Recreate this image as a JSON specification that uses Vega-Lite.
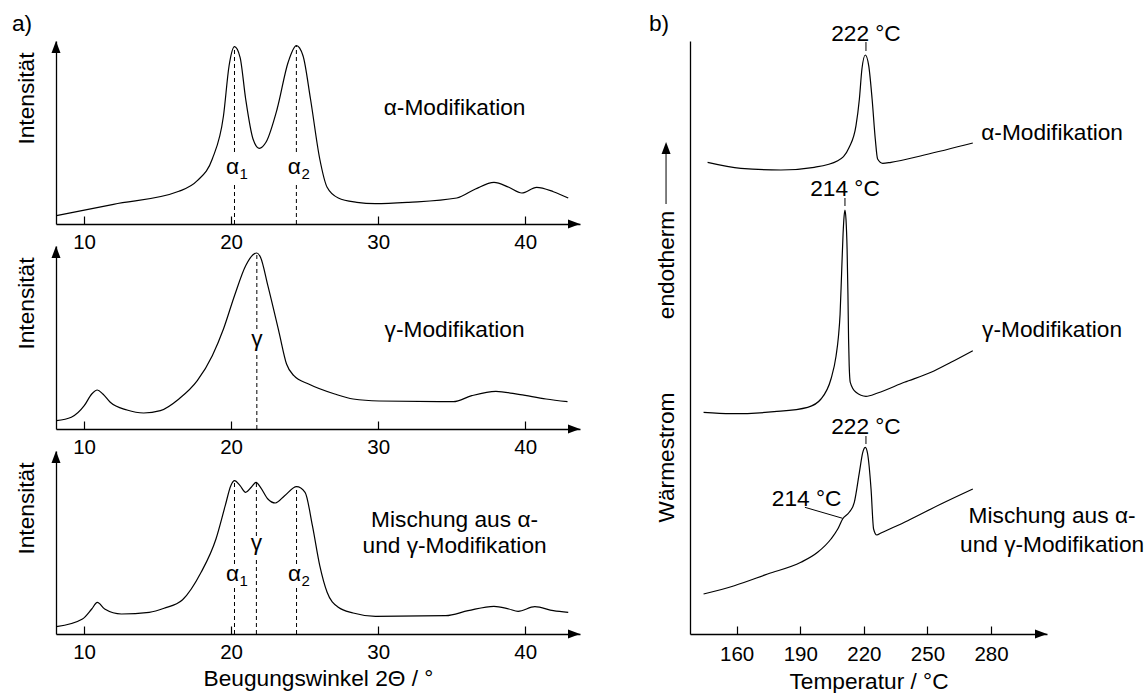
{
  "$schema": "https://vega.github.io/schema/vega-lite/v6.json",
  "background": "white",
  "padding": {"left": 11, "top": 12, "right": 5, "bottom": 5},
  "spacing": 68,
  "config": {
    "view": {"stroke": null},
    "font": "Liberation Sans",
    "axis": {"domainColor": "black", "domainWidth": 1.3, "tickColor": "black", "tickWidth": 1.2, "labelColor": "black", "labelFont": "Liberation Sans", "labelFontSize": 20.5, "titleFont": "Liberation Sans", "titleFontSize": 22.7, "titleFontWeight": "normal", "titleColor": "black", "grid": false, "labelOverlap": false, "labelFlush": false},
    "text": {"font": "Liberation Sans", "fontSize": 22.7, "color": "black"}
  },
  "datasets": {
    "xrd": [
      {"p": "a", "t": 8.12, "i": 8.3}, {"p": "a", "t": 12.0, "i": 19.7}, {"p": "a", "t": 16.45, "i": 32.7}, {"p": "a", "t": 17.7, "i": 43.3}, {"p": "a", "t": 18.72, "i": 65}, {"p": "a", "t": 19.48, "i": 108}, {"p": "a", "t": 19.86, "i": 158}, {"p": "a", "t": 20.23, "i": 177.3}, {"p": "a", "t": 20.61, "i": 166.7}, {"p": "a", "t": 20.99, "i": 125}, {"p": "a", "t": 21.49, "i": 85}, {"p": "a", "t": 21.92, "i": 75.7}, {"p": "a", "t": 22.37, "i": 81.7}, {"p": "a", "t": 23.13, "i": 115}, {"p": "a", "t": 23.88, "i": 161.7}, {"p": "a", "t": 24.44, "i": 178.3}, {"p": "a", "t": 24.89, "i": 168.3}, {"p": "a", "t": 25.4, "i": 125}, {"p": "a", "t": 26.03, "i": 65}, {"p": "a", "t": 26.53, "i": 36.7}, {"p": "a", "t": 27.29, "i": 26}, {"p": "a", "t": 28.55, "i": 21.7}, {"p": "a", "t": 29.81, "i": 20.3}, {"p": "a", "t": 32.08, "i": 21.7}, {"p": "a", "t": 35.35, "i": 26}, {"p": "a", "t": 36.62, "i": 35}, {"p": "a", "t": 37.88, "i": 41.7}, {"p": "a", "t": 38.89, "i": 36.7}, {"p": "a", "t": 39.77, "i": 31}, {"p": "a", "t": 40.78, "i": 36.7}, {"p": "a", "t": 41.92, "i": 32.3}, {"p": "a", "t": 42.93, "i": 26},
      {"p": "g", "t": 8.12, "i": 8.3}, {"p": "g", "t": 9.13, "i": 11.7}, {"p": "g", "t": 10.01, "i": 23.3}, {"p": "g", "t": 10.52, "i": 35}, {"p": "g", "t": 10.9, "i": 39}, {"p": "g", "t": 11.28, "i": 35}, {"p": "g", "t": 11.78, "i": 26.7}, {"p": "g", "t": 12.92, "i": 19}, {"p": "g", "t": 14.05, "i": 16}, {"p": "g", "t": 15.19, "i": 18.3}, {"p": "g", "t": 16.45, "i": 30}, {"p": "g", "t": 17.7, "i": 48.3}, {"p": "g", "t": 18.72, "i": 73.3}, {"p": "g", "t": 19.48, "i": 100}, {"p": "g", "t": 20.23, "i": 133.3}, {"p": "g", "t": 20.99, "i": 163.3}, {"p": "g", "t": 21.49, "i": 174.3}, {"p": "g", "t": 21.75, "i": 176}, {"p": "g", "t": 22.0, "i": 171.7}, {"p": "g", "t": 22.5, "i": 143.3}, {"p": "g", "t": 23.26, "i": 96.7}, {"p": "g", "t": 23.77, "i": 65}, {"p": "g", "t": 24.27, "i": 53.3}, {"p": "g", "t": 25.27, "i": 45}, {"p": "g", "t": 27.05, "i": 35}, {"p": "g", "t": 28.3, "i": 30}, {"p": "g", "t": 30.07, "i": 28}, {"p": "g", "t": 35.11, "i": 27.3}, {"p": "g", "t": 36.37, "i": 33.3}, {"p": "g", "t": 38.01, "i": 37.7}, {"p": "g", "t": 39.66, "i": 34.3}, {"p": "g", "t": 41.42, "i": 30}, {"p": "g", "t": 42.88, "i": 27.3},
      {"p": "m", "t": 8.12, "i": 7.3}, {"p": "m", "t": 9.89, "i": 15}, {"p": "m", "t": 10.52, "i": 25}, {"p": "m", "t": 10.9, "i": 31.7}, {"p": "m", "t": 11.4, "i": 25}, {"p": "m", "t": 12.54, "i": 20}, {"p": "m", "t": 14.43, "i": 21.7}, {"p": "m", "t": 15.44, "i": 25.7}, {"p": "m", "t": 16.7, "i": 34.3}, {"p": "m", "t": 17.96, "i": 61.7}, {"p": "m", "t": 18.97, "i": 95}, {"p": "m", "t": 19.6, "i": 128.3}, {"p": "m", "t": 19.98, "i": 148.3}, {"p": "m", "t": 20.23, "i": 153.3}, {"p": "m", "t": 20.61, "i": 148.3}, {"p": "m", "t": 20.99, "i": 141.7}, {"p": "m", "t": 21.37, "i": 146.7}, {"p": "m", "t": 21.7, "i": 151.7}, {"p": "m", "t": 22.0, "i": 146.7}, {"p": "m", "t": 22.5, "i": 135}, {"p": "m", "t": 23.01, "i": 131}, {"p": "m", "t": 23.64, "i": 138.3}, {"p": "m", "t": 24.45, "i": 147.3}, {"p": "m", "t": 25.03, "i": 141.7}, {"p": "m", "t": 25.53, "i": 108.3}, {"p": "m", "t": 26.03, "i": 68.3}, {"p": "m", "t": 26.53, "i": 41.7}, {"p": "m", "t": 27.29, "i": 26.7}, {"p": "m", "t": 28.3, "i": 21}, {"p": "m", "t": 29.82, "i": 17.7}, {"p": "m", "t": 34.6, "i": 18.3}, {"p": "m", "t": 36.12, "i": 23.3}, {"p": "m", "t": 37.88, "i": 27.7}, {"p": "m", "t": 38.89, "i": 25}, {"p": "m", "t": 39.52, "i": 22.7}, {"p": "m", "t": 40.66, "i": 27.3}, {"p": "m", "t": 41.92, "i": 23.3}, {"p": "m", "t": 42.93, "i": 21.7}
    ],
    "xrdDash": [
      {"p": "a", "t": 20.23, "i": 72, "i2": 177.3}, {"p": "a", "t": 20.23, "i": 0, "i2": 40}, {"p": "a", "t": 24.44, "i": 72, "i2": 178.3}, {"p": "a", "t": 24.44, "i": 0, "i2": 40},
      {"p": "g", "t": 21.75, "i": 100, "i2": 176}, {"p": "g", "t": 21.75, "i": 0, "i2": 75},
      {"p": "m", "t": 20.23, "i": 70, "i2": 153.3}, {"p": "m", "t": 20.23, "i": 0, "i2": 47}, {"p": "m", "t": 21.72, "i": 98, "i2": 151.7}, {"p": "m", "t": 21.72, "i": 0, "i2": 77}, {"p": "m", "t": 24.45, "i": 70, "i2": 147.3}, {"p": "m", "t": 24.45, "i": 0, "i2": 47}
    ],
    "xrdAlpha": [
      {"p": "a", "t": 20.23, "i": 50, "g": "α", "s": "1"}, {"p": "a", "t": 24.44, "i": 50, "g": "α", "s": "2"},
      {"p": "m", "t": 20.23, "i": 53, "g": "α", "s": "1"}, {"p": "m", "t": 24.45, "i": 53, "g": "α", "s": "2"}
    ],
    "xrdGamma": [
      {"p": "g", "t": 21.75, "i": 83.5, "g": "γ"}, {"p": "m", "t": 21.72, "i": 84, "g": "γ"}
    ],
    "xrdText": [
      {"p": "a", "t": 35.2, "i": 109, "text": "α-Modifikation"},
      {"p": "g", "t": 35.2, "i": 92.5, "text": "γ-Modifikation"},
      {"p": "m", "t": 35.2, "i": 107.5, "text": "Mischung aus α-"},
      {"p": "m", "t": 35.2, "i": 81, "text": "und γ-Modifikation"}
    ],
    "dsc": [
      {"s": "a", "T": 146.3, "W": 471.7}, {"s": "a", "T": 162.0, "W": 465.7}, {"s": "a", "T": 180.9, "W": 464}, {"s": "a", "T": 196.6, "W": 466.7}, {"s": "a", "T": 207.7, "W": 473.3}, {"s": "a", "T": 213.1, "W": 486.7}, {"s": "a", "T": 216.3, "W": 508.3}, {"s": "a", "T": 217.9, "W": 535}, {"s": "a", "T": 219.1, "W": 565}, {"s": "a", "T": 220.7, "W": 579}, {"s": "a", "T": 222.3, "W": 568.3}, {"s": "a", "T": 223.9, "W": 535}, {"s": "a", "T": 225.4, "W": 495}, {"s": "a", "T": 226.5, "W": 475}, {"s": "a", "T": 228.9, "W": 470.7}, {"s": "a", "T": 232.8, "W": 471.7}, {"s": "a", "T": 248.5, "W": 479}, {"s": "a", "T": 271.4, "W": 491},
      {"s": "g", "T": 144.4, "W": 221.7}, {"s": "g", "T": 157.3, "W": 220.3}, {"s": "g", "T": 177.7, "W": 222.3}, {"s": "g", "T": 193.5, "W": 226.7}, {"s": "g", "T": 199.8, "W": 235}, {"s": "g", "T": 204.5, "W": 255}, {"s": "g", "T": 206.9, "W": 278}, {"s": "g", "T": 208.0, "W": 297}, {"s": "g", "T": 208.8, "W": 320}, {"s": "g", "T": 209.5, "W": 360}, {"s": "g", "T": 210.2, "W": 400}, {"s": "g", "T": 210.7, "W": 418}, {"s": "g", "T": 211.1, "W": 424}, {"s": "g", "T": 211.6, "W": 414}, {"s": "g", "T": 212.1, "W": 385}, {"s": "g", "T": 212.5, "W": 340}, {"s": "g", "T": 212.8, "W": 295}, {"s": "g", "T": 213.1, "W": 268}, {"s": "g", "T": 213.6, "W": 251.7}, {"s": "g", "T": 216.3, "W": 241.7}, {"s": "g", "T": 221.0, "W": 237.7}, {"s": "g", "T": 226.5, "W": 241}, {"s": "g", "T": 239.1, "W": 251.7}, {"s": "g", "T": 251.7, "W": 261.7}, {"s": "g", "T": 261.1, "W": 271.7}, {"s": "g", "T": 271.4, "W": 283.3},
      {"s": "m", "T": 144.4, "W": 40}, {"s": "m", "T": 158.9, "W": 48.3}, {"s": "m", "T": 174.6, "W": 60}, {"s": "m", "T": 190.3, "W": 71.7}, {"s": "m", "T": 198.2, "W": 81.7}, {"s": "m", "T": 204.5, "W": 95}, {"s": "m", "T": 207.7, "W": 105}, {"s": "m", "T": 210.0, "W": 115}, {"s": "m", "T": 213.1, "W": 121.7}, {"s": "m", "T": 215.5, "W": 131.7}, {"s": "m", "T": 217.9, "W": 161.7}, {"s": "m", "T": 219.5, "W": 181.7}, {"s": "m", "T": 220.7, "W": 186.7}, {"s": "m", "T": 221.8, "W": 180}, {"s": "m", "T": 223.4, "W": 145}, {"s": "m", "T": 224.6, "W": 105}, {"s": "m", "T": 226.1, "W": 99}, {"s": "m", "T": 228.1, "W": 101}, {"s": "m", "T": 240.7, "W": 113.3}, {"s": "m", "T": 256.4, "W": 130}, {"s": "m", "T": 271.4, "W": 145}
    ],
    "dscTick": [
      {"T": 221.0, "W": 583, "W2": 592}, {"T": 211.1, "W": 428, "W2": 436}, {"T": 221.0, "W": 190, "W2": 198}
    ],
    "dscLead": [
      {"T": 192.2, "W": 126.7, "T2": 210.0, "W2": 115.7}
    ],
    "dscPeak": [
      {"T": 221.0, "W": 593, "text": "222 °C"}, {"T": 211.1, "W": 438.5, "text": "214 °C"}, {"T": 221.0, "W": 200, "text": "222 °C"}, {"T": 193.0, "W": 128, "text": "214 °C"}
    ],
    "dscText": [
      {"T": 308.8, "W": 494, "text": "α-Modifikation"},
      {"T": 308.8, "W": 297, "text": "γ-Modifikation"},
      {"T": 308.8, "W": 111, "text": "Mischung aus α-"},
      {"T": 308.8, "W": 82, "text": "und γ-Modifikation"}
    ]
  },
  "hconcat": [
    {
      "vconcat": [
        {
          "width": 524, "height": 183,
          "layer": [
            {"data": {"name": "xrd"}, "transform": [{"filter": "datum.p === 'a'"}],
             "mark": {"type": "line", "interpolate": "monotone", "color": "black", "strokeWidth": 1.2},
             "encoding": {
               "x": {"field": "t", "type": "quantitative", "scale": {"domain": [8.09, 43.73], "nice": false, "zero": false}, "axis": {"values": [10, 20, 30, 40], "title": null, "tickSize": -8, "labelPadding": 16.4}},
               "y": {"field": "i", "type": "quantitative", "scale": {"domain": [0, 183], "nice": false}, "axis": {"title": "Intensität", "ticks": false, "labels": false, "titlePadding": 17.5, "titleY": 11, "titleAlign": "right", "titleAngle": 270}}
             }},
            {"data": {"name": "xrdDash"}, "transform": [{"filter": "datum.p === 'a'"}],
             "mark": {"type": "rule", "strokeDash": [4, 3], "color": "black", "strokeWidth": 1},
             "encoding": {"x": {"field": "t", "type": "quantitative"}, "y": {"field": "i", "type": "quantitative"}, "y2": {"field": "i2"}}},
            {"data": {"name": "xrdAlpha"}, "transform": [{"filter": "datum.p === 'a'"}],
             "mark": {"type": "text", "align": "center", "baseline": "alphabetic", "dx": -2, "color": "black"},
             "encoding": {"x": {"field": "t", "type": "quantitative"}, "y": {"field": "i", "type": "quantitative"}, "text": {"field": "g"}}},
            {"data": {"name": "xrdAlpha"}, "transform": [{"filter": "datum.p === 'a'"}],
             "mark": {"type": "text", "align": "left", "baseline": "alphabetic", "dx": 5, "dy": 5, "fontSize": 15, "color": "black"},
             "encoding": {"x": {"field": "t", "type": "quantitative"}, "y": {"field": "i", "type": "quantitative"}, "text": {"field": "s"}}},
            {"data": {"name": "xrdText"}, "transform": [{"filter": "datum.p === 'a'"}],
             "mark": {"type": "text", "align": "center", "baseline": "alphabetic", "color": "black"},
             "encoding": {"x": {"field": "t", "type": "quantitative"}, "y": {"field": "i", "type": "quantitative"}, "text": {"field": "text"}}},
            {"data": {"values": [{}]},
             "mark": {"type": "text", "align": "left", "baseline": "alphabetic", "text": "a)", "color": "black"},
             "encoding": {"x": {"datum": 5.09, "type": "quantitative"}, "y": {"datum": 193, "type": "quantitative"}}},
            {"data": {"values": [{}]},
             "mark": {"type": "point", "shape": "M 0 0 L -2.4 -0.9 L -2.4 0.9 Z", "size": 100, "filled": true, "color": "black", "opacity": 1, "strokeWidth": 0},
             "encoding": {"x": {"datum": 43.73, "type": "quantitative"}, "y": {"datum": 0, "type": "quantitative"}}},
            {"data": {"values": [{}]},
             "mark": {"type": "point", "shape": "M 0 0 L -0.9 2.4 L 0.9 2.4 Z", "size": 100, "filled": true, "color": "black", "opacity": 1, "strokeWidth": 0},
             "encoding": {"x": {"datum": 8.09, "type": "quantitative"}, "y": {"datum": 183, "type": "quantitative"}}}
          ]
        },
        {
          "width": 524, "height": 183,
          "layer": [
            {"data": {"name": "xrd"}, "transform": [{"filter": "datum.p === 'g'"}],
             "mark": {"type": "line", "interpolate": "monotone", "color": "black", "strokeWidth": 1.2},
             "encoding": {
               "x": {"field": "t", "type": "quantitative", "scale": {"domain": [8.09, 43.73], "nice": false, "zero": false}, "axis": {"values": [10, 20, 30, 40], "title": null, "tickSize": -8, "labelPadding": 16.4}},
               "y": {"field": "i", "type": "quantitative", "scale": {"domain": [0, 183], "nice": false}, "axis": {"title": "Intensität", "ticks": false, "labels": false, "titlePadding": 17.5, "titleY": 11, "titleAlign": "right", "titleAngle": 270}}
             }},
            {"data": {"name": "xrdDash"}, "transform": [{"filter": "datum.p === 'g'"}],
             "mark": {"type": "rule", "strokeDash": [4, 3], "color": "black", "strokeWidth": 1},
             "encoding": {"x": {"field": "t", "type": "quantitative"}, "y": {"field": "i", "type": "quantitative"}, "y2": {"field": "i2"}}},
            {"data": {"name": "xrdGamma"}, "transform": [{"filter": "datum.p === 'g'"}],
             "mark": {"type": "text", "align": "center", "baseline": "alphabetic", "color": "black"},
             "encoding": {"x": {"field": "t", "type": "quantitative"}, "y": {"field": "i", "type": "quantitative"}, "text": {"field": "g"}}},
            {"data": {"name": "xrdText"}, "transform": [{"filter": "datum.p === 'g'"}],
             "mark": {"type": "text", "align": "center", "baseline": "alphabetic", "color": "black"},
             "encoding": {"x": {"field": "t", "type": "quantitative"}, "y": {"field": "i", "type": "quantitative"}, "text": {"field": "text"}}},
            {"data": {"values": [{}]},
             "mark": {"type": "point", "shape": "M 0 0 L -2.4 -0.9 L -2.4 0.9 Z", "size": 100, "filled": true, "color": "black", "opacity": 1, "strokeWidth": 0},
             "encoding": {"x": {"datum": 43.73, "type": "quantitative"}, "y": {"datum": 0, "type": "quantitative"}}},
            {"data": {"values": [{}]},
             "mark": {"type": "point", "shape": "M 0 0 L -0.9 2.4 L 0.9 2.4 Z", "size": 100, "filled": true, "color": "black", "opacity": 1, "strokeWidth": 0},
             "encoding": {"x": {"datum": 8.09, "type": "quantitative"}, "y": {"datum": 183, "type": "quantitative"}}}
          ]
        },
        {
          "width": 524, "height": 183,
          "layer": [
            {"data": {"name": "xrd"}, "transform": [{"filter": "datum.p === 'm'"}],
             "mark": {"type": "line", "interpolate": "monotone", "color": "black", "strokeWidth": 1.2},
             "encoding": {
               "x": {"field": "t", "type": "quantitative", "scale": {"domain": [8.09, 43.73], "nice": false, "zero": false}, "axis": {"values": [10, 20, 30, 40], "title": "Beugungswinkel 2Θ / °", "tickSize": -8, "labelPadding": 16.4, "titlePadding": 5}},
               "y": {"field": "i", "type": "quantitative", "scale": {"domain": [0, 183], "nice": false}, "axis": {"title": "Intensität", "ticks": false, "labels": false, "titlePadding": 17.5, "titleY": 11, "titleAlign": "right", "titleAngle": 270}}
             }},
            {"data": {"name": "xrdDash"}, "transform": [{"filter": "datum.p === 'm'"}],
             "mark": {"type": "rule", "strokeDash": [4, 3], "color": "black", "strokeWidth": 1},
             "encoding": {"x": {"field": "t", "type": "quantitative"}, "y": {"field": "i", "type": "quantitative"}, "y2": {"field": "i2"}}},
            {"data": {"name": "xrdAlpha"}, "transform": [{"filter": "datum.p === 'm'"}],
             "mark": {"type": "text", "align": "center", "baseline": "alphabetic", "dx": -2, "color": "black"},
             "encoding": {"x": {"field": "t", "type": "quantitative"}, "y": {"field": "i", "type": "quantitative"}, "text": {"field": "g"}}},
            {"data": {"name": "xrdAlpha"}, "transform": [{"filter": "datum.p === 'm'"}],
             "mark": {"type": "text", "align": "left", "baseline": "alphabetic", "dx": 5, "dy": 5, "fontSize": 15, "color": "black"},
             "encoding": {"x": {"field": "t", "type": "quantitative"}, "y": {"field": "i", "type": "quantitative"}, "text": {"field": "s"}}},
            {"data": {"name": "xrdGamma"}, "transform": [{"filter": "datum.p === 'm'"}],
             "mark": {"type": "text", "align": "center", "baseline": "alphabetic", "color": "black"},
             "encoding": {"x": {"field": "t", "type": "quantitative"}, "y": {"field": "i", "type": "quantitative"}, "text": {"field": "g"}}},
            {"data": {"name": "xrdText"}, "transform": [{"filter": "datum.p === 'm'"}],
             "mark": {"type": "text", "align": "center", "baseline": "alphabetic", "color": "black"},
             "encoding": {"x": {"field": "t", "type": "quantitative"}, "y": {"field": "i", "type": "quantitative"}, "text": {"field": "text"}}},
            {"data": {"values": [{}]},
             "mark": {"type": "point", "shape": "M 0 0 L -2.4 -0.9 L -2.4 0.9 Z", "size": 100, "filled": true, "color": "black", "opacity": 1, "strokeWidth": 0},
             "encoding": {"x": {"datum": 43.73, "type": "quantitative"}, "y": {"datum": 0, "type": "quantitative"}}},
            {"data": {"values": [{}]},
             "mark": {"type": "point", "shape": "M 0 0 L -0.9 2.4 L 0.9 2.4 Z", "size": 100, "filled": true, "color": "black", "opacity": 1, "strokeWidth": 0},
             "encoding": {"x": {"datum": 8.09, "type": "quantitative"}, "y": {"datum": 183, "type": "quantitative"}}}
          ]
        }
      ],
      "spacing": 22,
      "bounds": "flush"
    },
    {
      "width": 357, "height": 593,
      "layer": [
        {"data": {"name": "dsc"},
         "mark": {"type": "line", "interpolate": "monotone", "color": "black", "strokeWidth": 1.2},
         "encoding": {
           "x": {"field": "T", "type": "quantitative", "scale": {"domain": [138, 306.4], "nice": false, "zero": false}, "axis": {"values": [160, 190, 220, 250, 280], "title": "Temperatur / °C", "tickSize": -8, "labelPadding": 18.4, "titlePadding": 5.6}},
           "y": {"field": "W", "type": "quantitative", "scale": {"domain": [0, 593], "nice": false}, "axis": {"title": "Wärmestrom", "ticks": false, "labels": false, "titlePadding": 11.4, "titleY": 416, "titleAlign": "center", "titleAngle": 270}},
           "detail": {"field": "s"}
         }},
        {"data": {"name": "dscTick"},
         "mark": {"type": "rule", "color": "black", "strokeWidth": 1},
         "encoding": {"x": {"field": "T", "type": "quantitative"}, "y": {"field": "W", "type": "quantitative"}, "y2": {"field": "W2"}}},
        {"data": {"name": "dscLead"},
         "mark": {"type": "rule", "color": "black", "strokeWidth": 1},
         "encoding": {"x": {"field": "T", "type": "quantitative"}, "y": {"field": "W", "type": "quantitative"}, "x2": {"field": "T2"}, "y2": {"field": "W2"}}},
        {"data": {"name": "dscPeak"},
         "mark": {"type": "text", "align": "center", "baseline": "alphabetic", "color": "black"},
         "encoding": {"x": {"field": "T", "type": "quantitative"}, "y": {"field": "W", "type": "quantitative"}, "text": {"field": "text"}}},
        {"data": {"name": "dscText"},
         "mark": {"type": "text", "align": "center", "baseline": "alphabetic", "color": "black"},
         "encoding": {"x": {"field": "T", "type": "quantitative"}, "y": {"field": "W", "type": "quantitative"}, "text": {"field": "text"}}},
        {"data": {"values": [{}]},
         "mark": {"type": "text", "align": "center", "baseline": "alphabetic", "angle": 270, "text": "endotherm", "color": "black"},
         "encoding": {"x": {"datum": 130.45, "type": "quantitative"}, "y": {"datum": 369, "type": "quantitative"}}},
        {"data": {"values": [{}]},
         "mark": {"type": "rule", "color": "black", "strokeWidth": 1},
         "encoding": {"x": {"datum": 126.7, "type": "quantitative"}, "y": {"datum": 430, "type": "quantitative"}, "y2": {"datum": 484}}},
        {"data": {"values": [{}]},
         "mark": {"type": "point", "shape": "M 0 0 L -0.9 2.4 L 0.9 2.4 Z", "size": 100, "filled": true, "color": "black", "opacity": 1, "strokeWidth": 0},
         "encoding": {"x": {"datum": 126.7, "type": "quantitative"}, "y": {"datum": 492, "type": "quantitative"}}},
        {"data": {"values": [{}]},
         "mark": {"type": "point", "shape": "M 0 0 L -2.4 -0.9 L -2.4 0.9 Z", "size": 100, "filled": true, "color": "black", "opacity": 1, "strokeWidth": 0},
         "encoding": {"x": {"datum": 306.4, "type": "quantitative"}, "y": {"datum": 0, "type": "quantitative"}}},
        {"data": {"values": [{}]},
         "mark": {"type": "text", "align": "left", "baseline": "alphabetic", "text": "b)", "color": "black"},
         "encoding": {"x": {"datum": 118.65, "type": "quantitative"}, "y": {"datum": 603, "type": "quantitative"}}}
      ]
    }
  ]
}
